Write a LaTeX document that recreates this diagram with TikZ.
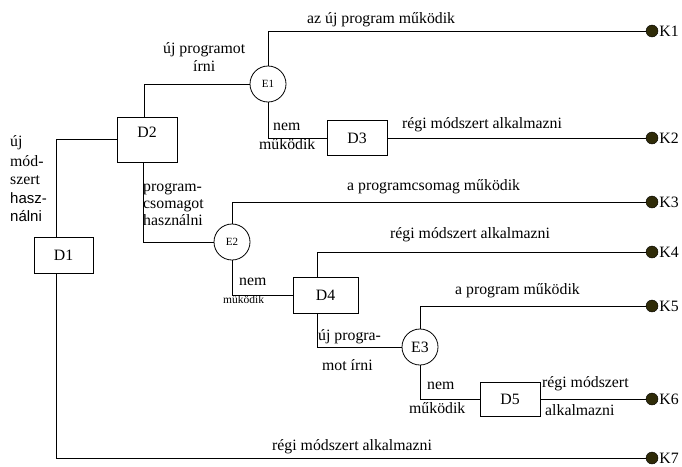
\documentclass[tikz,border=0pt]{standalone}
\usepackage{fontspec}
\setmainfont{Liberation Serif}
\setsansfont{Liberation Sans}
\definecolor{dotcol}{HTML}{2F2B08}
\begin{document}
\begin{tikzpicture}[x=1pt,y=-1pt,
  every node/.style={font=\rmfamily\fontsize{15.8}{18}\selectfont, inner sep=0pt},
  box/.style={draw, line width=0.8pt, fill=white},
  ev/.style={draw, circle, line width=0.8pt, minimum size=36pt, fill=white},
  dot/.style={circle, fill=dotcol, draw=black, line width=0.4pt, minimum size=12pt},
  lbl/.style={anchor=base west},
  small/.style={font=\rmfamily\fontsize{11.5}{13}\selectfont},
  conn/.style={line width=0.8pt}]
\useasboundingbox (0,0) rectangle (682,466);
% terminals
\node[dot] (K1) at (652,31) {};
\node[dot] (K2) at (652,138) {};
\node[dot] (K3) at (652,202) {};
\node[dot] (K4) at (652,252) {};
\node[dot] (K5) at (652,306) {};
\node[dot] (K6) at (652,399) {};
\node[dot] (K7) at (652,458) {};
\foreach \k in {1,...,7} \node[anchor=west] (K\k t) at ([xshift=1pt]K\k.east) {K\k};
% boxes and events
\node[box, minimum width=59pt, minimum height=36pt] (D1) at (63.5,255) {D1};
\node[box, minimum width=60pt, minimum height=45pt] (D2) at (147,139.5) {};
\node (D2t) at ([yshift=-16pt]D2.north) {D2};
\node[box, minimum width=60pt, minimum height=35pt] (D3) at (357,138) {D3};
\node[box, minimum width=65pt, minimum height=36pt] (D4) at (325.5,295) {D4};
\node[box, minimum width=60pt, minimum height=34pt] (D5) at (510,399) {D5};
\node[ev] (E1) at (268,84) {\fontsize{11}{12}\selectfont E1};
\node[ev] (E2) at (232,242) {\fontsize{11}{12}\selectfont E2};
\node[ev] (E3) at (420,347) {E3};
% connectors
\draw[conn] ([xshift=-7pt]D1.north) |- (D2.west);
\draw[conn] ([xshift=-7pt]D1.south) |- (K7);
\draw[conn] ([xshift=-3pt]D2.north) |- (E1.west);
\draw[conn] ([xshift=-4pt]D2.south) |- (E2.west);
\draw[conn] (E1.north) |- (K1);
\draw[conn] (E1.south) |- (D3.west);
\draw[conn] (D3.east) -- (K2);
\draw[conn] (E2.north) |- (K3);
\draw[conn] (E2.south) |- (D4.west);
\draw[conn] ([xshift=-8pt]D4.north) |- (K4);
\draw[conn] ([xshift=-8pt]D4.south) |- (E3.west);
\draw[conn] (E3.north) |- (K5);
\draw[conn] (E3.south) |- (D5.west);
\draw[conn] (D5.east) -- (K6);
% labels
\node[lbl] (l1) at (307,23) {az új program működik};
\node[lbl] (l2a) at (163,53) {új programot};
\node[lbl] (l2b) at (193,71) {írni};
\node[lbl] (l3a) at (273,130) {nem};
\node[lbl] (l3b) at (259,149) {működik};
\node[lbl] (l4) at (402,128) {régi módszert alkalmazni};
\node[lbl] (l5a) at (10,146) {új};
\node[lbl] (l5b) at (10,166) {mód-};
\node[lbl] (l5c) at (10,184) {szert};
\node[lbl, font=\sffamily\fontsize{15}{18}\selectfont] (l5d) at (10,203) {hasz-};
\node[lbl, font=\sffamily\fontsize{15}{18}\selectfont] (l5e) at (10,221) {nálni};
\node[lbl] (l6a) at (143,191) {program-};
\node[lbl] (l6b) at (143,208) {csomagot};
\node[lbl] (l6c) at (143,225) {használni};
\node[lbl] (l7) at (347,190) {a programcsomag működik};
\node[lbl] (l8a) at (239,285) {nem};
\node[lbl, small] (l8b) at (223,303) {működik};
\node[lbl] (l9) at (390,238) {régi módszert alkalmazni};
\node[lbl] (l10a) at (318,340) {új progra-};
\node[lbl] (l10b) at (322,370) {mot írni};
\node[lbl] (l11) at (455,294) {a program működik};
\node[lbl] (l12a) at (427,389) {nem};
\node[lbl] (l12b) at (409,413) {működik};
\node[lbl] (l13a) at (542,387) {régi módszert};
\node[lbl] (l13b) at (545,415) {alkalmazni};
\node[lbl] (l14) at (272,450) {régi módszert alkalmazni};
\end{tikzpicture}
\end{document}
